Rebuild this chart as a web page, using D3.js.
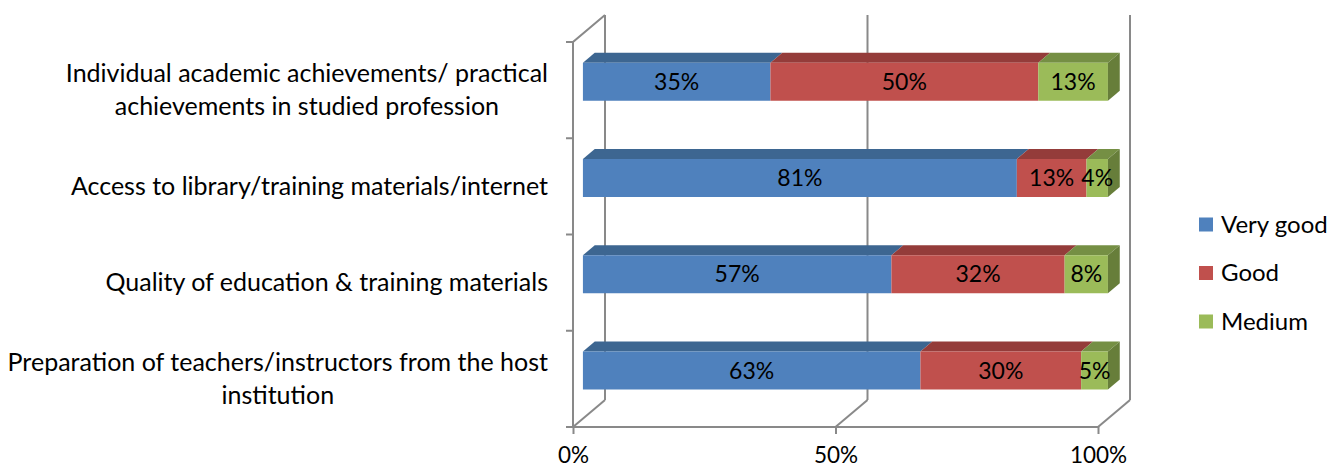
<!DOCTYPE html>
<html>
<head>
<meta charset="utf-8">
<script src="https://cdn.jsdelivr.net/npm/d3@7"></script>
<style>
  html, body { margin: 0; padding: 0; background: #fff; }
  svg { display: block; font-family: Lato, "Open Sans", sans-serif; }
</style>
</head>
<body>
<svg id="chart" width="1333" height="470"></svg>
<script>
// Survey ratings, one row per aspect (top to bottom)
const categories = [
  "Individual academic achievements/ practical achievements in studied profession",
  "Access to library/training materials/internet",
  "Quality of education & training materials",
  "Preparation of teachers/instructors from the host institution"
];
const categoryLines = [
  ["Individual academic achievements/ practical", "achievements in studied profession"],
  ["Access to library/training materials/internet"],
  ["Quality of education & training materials"],
  ["Preparation of teachers/instructors from the host", "institution"]
];
const seriesNames = ["Very good", "Good", "Medium"];
const veryGood = [35, 81, 57, 63];
const good     = [50, 13, 32, 30];
const medium   = [13, 4, 8, 5];
const tickValues = [0, 0.5, 1];

const colors = {
  "Very good": { front: "#4F81BD", top: "#3D6691", side: "#36597f" },
  "Good":      { front: "#C0504D", top: "#943C3A", side: "#7f3331" },
  "Medium":    { front: "#9BBB59", top: "#758F44", side: "#677E3A" }
};

const svg = d3.select("#chart");

// front plane of the 3-D box and its depth offset
const plot = { left: 573, right: 1098, top: 42, bottom: 427 };
const depth = { dx: 32, dy: -27 };
const barZ = [0.31, 0.68];             // bar occupies this slice of the depth
const proj = (x, y, z) => [x + z * depth.dx, y + z * depth.dy];

const x = d3.scaleLinear().domain([0, 1]).range([plot.left, plot.right]);
const pad = 0.605;
const y = d3.scaleBand().domain(categories)
  .range([plot.top, plot.bottom]).paddingInner(pad).paddingOuter(pad / 2);
const step = y.step();

const table = categories.map((c, i) => ({
  category: c, "Very good": veryGood[i], "Good": good[i], "Medium": medium[i]
}));
const stacked = d3.stack().keys(seriesNames).offset(d3.stackOffsetExpand)(table);

const gridColor = "#898989";
const gw = 2;
const walls = svg.append("g").attr("fill", "none").attr("stroke", gridColor).attr("stroke-width", gw);
const line = d3.line();

// back-wall vertical gridlines and floor diagonals
tickValues.forEach(v => {
  const b0 = proj(x(v), plot.bottom, 1), b1 = proj(x(v), plot.top, 1);
  walls.append("path").attr("d", line([b0, b1]));
  walls.append("path").attr("d", line([[x(v), plot.bottom], b0]));
});
// left wall front edge and its top edge
walls.append("path").attr("d", line([[plot.left, plot.bottom], [plot.left, plot.top], proj(plot.left, plot.top, 1)]));
// left axis ticks on the category boundaries
const boundaries = categories.map(c => y(c) - step * pad / 2).concat([plot.bottom]);
boundaries.forEach(b => {
  walls.append("path").attr("d", line([[plot.left - 7, b], [plot.left, b]]));
});

// value axis along the floor's front edge
const xAxis = d3.axisBottom(x).tickValues(tickValues)
  .tickFormat(d3.format(".0%")).tickSize(7).tickPadding(13).tickSizeOuter(0);
const ax = svg.append("g").attr("transform", `translate(0,${plot.bottom})`).call(xAxis);
ax.select(".domain").attr("stroke", gridColor).attr("stroke-width", gw)
  .attr("d", `M${plot.left - 7},0H${plot.right}`);
ax.selectAll(".tick line").attr("stroke", gridColor).attr("stroke-width", gw);
ax.selectAll(".tick text").attr("fill", "#000").style("font-size", "22.5px")
  .style("font-family", "Lato, 'Open Sans', sans-serif");

// 3-D stacked bars
const bars = svg.append("g");
stacked.forEach((s, si) => {
  const c = colors[s.key];
  s.forEach(d => {
    const y0 = y(d.data.category), y1 = y0 + y.bandwidth();
    const xa = x(d[0]), xb = x(d[1]);
    const f0 = barZ[0], f1 = barZ[1];
    const front = [proj(xa, y0, f0), proj(xb, y0, f0), proj(xb, y1, f0), proj(xa, y1, f0)];
    const top = [proj(xa, y0, f0), proj(xb, y0, f0), proj(xb, y0, f1), proj(xa, y0, f1)];
    bars.append("path").attr("d", line(top) + "Z").attr("fill", c.top);
    bars.append("path").attr("d", line(front) + "Z").attr("fill", c.front);
    if (si === stacked.length - 1) {
      const side = [proj(xb, y0, f0), proj(xb, y0, f1), proj(xb, y1, f1), proj(xb, y1, f0)];
      bars.append("path").attr("d", line(side) + "Z").attr("fill", c.side);
    }
  });
});

// value labels on the front faces
const labels = svg.append("g").attr("text-anchor", "middle").style("font-size", "23px").attr("fill", "#000");
stacked.forEach((s, si) => {
  s.forEach((d, i) => {
    const [cx, cy] = proj((x(d[0]) + x(d[1])) / 2, y(d.data.category) + y.bandwidth() / 2, barZ[0]);
    const raw = [veryGood, good, medium][si][i];
    labels.append("text").attr("x", cx).attr("y", cy).attr("dy", "0.35em").text(raw + "%");
  });
});

// category labels, wrapped lines centred within a right-aligned block
const catG = svg.append("g").style("font-size", "25px").attr("fill", "#000");
const labelRight = 548, lineH = 32.5;
categories.forEach((c, i) => {
  const lines = categoryLines[i];
  const cy = y(c) + y.bandwidth() / 2 + depth.dy * barZ[0] / 2 + 4;
  const g = catG.append("g");
  const texts = lines.map((t, k) => g.append("text")
    .attr("y", cy + (k - (lines.length - 1) / 2) * lineH)
    .attr("dy", "0.35em").attr("text-anchor", "middle").text(t));
  const maxW = d3.max(texts, t => t.node().getComputedTextLength());
  texts.forEach(t => t.attr("x", labelRight - maxW / 2));
});

// legend
const legend = svg.append("g").style("font-size", "24px");
seriesNames.forEach((n, i) => {
  const ly = 224.5 + i * 48.5;
  legend.append("rect").attr("x", 1199).attr("y", ly - 7).attr("width", 14).attr("height", 14)
    .attr("fill", colors[n].front);
  legend.append("text").attr("x", 1221).attr("y", ly).attr("dy", "0.35em").attr("fill", "#000").text(n);
});
</script>
</body>
</html>
